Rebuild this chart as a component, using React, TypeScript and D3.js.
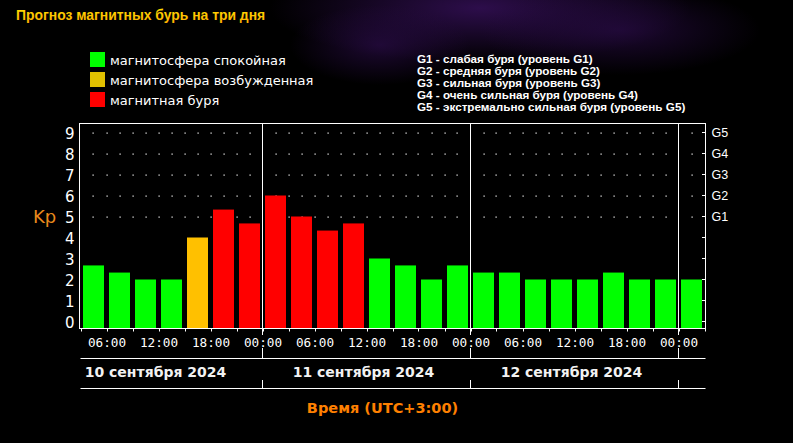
import React from "react";
import * as d3 from "d3";

const W = 793;
const H = 443;

// Kp values per 3-hour interval, starting 10 Sep 03:00 (UTC+3)
const kpValues = [
  2.67, 2.33, 2.0, 2.0, 4.0, 5.33, 4.67,
  6.0, 5.0, 4.33, 4.67, 3.0, 2.67, 2.0, 2.67,
  2.33, 2.33, 2.0, 2.0, 2.0, 2.33, 2.0, 2.0,
  2.0,
];
// 0 = quiet, 1 = unsettled, 2 = storm
const kpStatus = [
  0, 0, 0, 0, 1, 2, 2,
  2, 2, 2, 2, 0, 0, 0, 0,
  0, 0, 0, 0, 0, 0, 0, 0,
  0,
];
const statusColors = ["#00ff00", "#ffc000", "#ff0000"];
const legendColors = ["#00ff00", "#e0c000", "#ff0000"];
const legendLabels = [
  "магнитосфера спокойная",
  "магнитосфера возбужденная",
  "магнитная буря",
];
const gLegend = [
  "G1 - слабая буря (уровень G1)",
  "G2 - средняя буря (уровень G2)",
  "G3 - сильная буря (уровень G3)",
  "G4 - очень сильная буря (уровень G4)",
  "G5 - экстремально сильная буря (уровень G5)",
];
const gLabels = ["G1", "G2", "G3", "G4", "G5"];
const gLevels = [5, 6, 7, 8, 9];
const yTicks = [0, 1, 2, 3, 4, 5, 6, 7, 8, 9];
const dayLabels = ["10 сентября 2024", "11 сентября 2024", "12 сентября 2024"];
const startHour = 3; // first interval starts at 03:00 on day 1
const stepHours = 3;
const title = "Прогноз магнитных бурь на три дня";
const xTitle = "Время (UTC+3:00)";
const yTitle = "Kp";

export default function App() {
  const left = 80.5;
  const right = 704.5;
  const top = 123.5;
  const bottom = 328.5;
  const endHour = startHour + stepHours * kpValues.length;

  const x = d3.scaleLinear().domain([startHour, endHour]).range([left, right]);
  const y = d3.scaleLinear().domain([0, 9]).range([321.5, 132.5]);

  const tickHours = d3.range(startHour, endHour + 0.01, 3);
  const labelHours = tickHours.filter((h) => h % 6 === 0);
  const dayBounds = tickHours.filter((h) => h % 24 === 0);
  const dotHours = d3
    .range(startHour + 1.5, endHour - 0.1, 1.5)
    .filter((h) => h % 24 !== 0);
  const dotLevels = [5, 6, 7, 8, 9];

  const fmt = (h: number) => {
    const hh = h % 24;
    return (hh < 10 ? "0" : "") + hh + ":00";
  };

  return (
    <div style={{ position: "fixed", left: 0, top: 0, width: W, height: H }}>
      <svg width={W} height={H} style={{ display: "block", background: "#000" }}>
        <defs>
          <radialGradient id="glow1" cx="50%" cy="50%" r="50%">
            <stop offset="0%" stopColor="#3c1264" stopOpacity="0.75" />
            <stop offset="100%" stopColor="#3c1264" stopOpacity="0" />
          </radialGradient>
          <radialGradient id="glow2" cx="50%" cy="50%" r="50%">
            <stop offset="0%" stopColor="#2a0c48" stopOpacity="0.7" />
            <stop offset="100%" stopColor="#2a0c48" stopOpacity="0" />
          </radialGradient>
          <linearGradient id="titleGrad" x1="0" y1="0" x2="0" y2="1">
            <stop offset="0%" stopColor="#ffe000" />
            <stop offset="100%" stopColor="#ffb000" />
          </linearGradient>
        </defs>
        <rect x={0} y={0} width={W} height={H} fill="#000" />
        <ellipse cx={480} cy={8} rx={210} ry={55} fill="url(#glow1)" />
        <ellipse cx={380} cy={45} rx={90} ry={40} fill="url(#glow2)" />
        <ellipse cx={620} cy={30} rx={140} ry={45} fill="url(#glow2)" />

        <text
          x={16}
          y={20}
          fill="url(#titleGrad)"
          fontFamily="Liberation Sans, Arial, sans-serif"
          fontWeight="bold"
          fontSize={13.9}
        >
          {title}
        </text>

        {legendLabels.map((t, i) => (
          <g key={t}>
            <rect x={90} y={52 + i * 20} width={15} height={15} fill={legendColors[i]} />
            <text
              x={110}
              y={65 + i * 20}
              fill="#fff"
              fontFamily="DejaVu Sans, sans-serif"
              fontSize={13}
            >
              {t}
            </text>
          </g>
        ))}

        {gLegend.map((t, i) => (
          <text
            key={t}
            x={417}
            y={63.3 + i * 12}
            fill="#fff"
            fontFamily="Liberation Sans, Arial, sans-serif"
            fontWeight="bold"
            fontSize={11.7}
          >
            {t}
          </text>
        ))}

        {/* grid dots */}
        {dotLevels.map((lv) =>
          dotHours.map((h) => (
            <rect
              key={lv + "-" + h}
              x={Math.round(x(h)) - 0.5}
              y={Math.round(y(lv)) - 0.5}
              width={1.2}
              height={1.2}
              fill="#fff"
            />
          ))
        )}

        {/* bars */}
        {kpValues.map((v, i) => {
          const h0 = startHour + i * stepHours;
          const x0 = x(h0) + 2.5;
          const x1 = x(h0 + stepHours) - 2.5;
          return (
            <rect
              key={i}
              x={x0}
              y={y(v)}
              width={x1 - x0}
              height={bottom - y(v)}
              fill={statusColors[kpStatus[i]]}
            />
          );
        })}

        {/* plot frame */}
        <rect
          x={left - 1}
          y={top}
          width={right + 1 - left + 1}
          height={bottom - top}
          fill="none"
          stroke="#fff"
          strokeWidth={1}
        />

        {/* day dividers */}
        {dayBounds.map((h) => (
          <g key={"d" + h} stroke="#fff" strokeWidth={1}>
            <line x1={Math.round(x(h)) - 0.5} x2={Math.round(x(h)) - 0.5} y1={top} y2={335} />
            <line x1={Math.round(x(h)) - 0.5} x2={Math.round(x(h)) - 0.5} y1={348} y2={358.5} />
            <line x1={Math.round(x(h)) - 0.5} x2={Math.round(x(h)) - 0.5} y1={380} y2={388.5} />
          </g>
        ))}

        {/* bottom ticks */}
        {tickHours.map((h) => (
          <line
            key={"t" + h}
            x1={Math.round(x(h)) + 0.5}
            x2={Math.round(x(h)) + 0.5}
            y1={bottom}
            y2={bottom + 3}
            stroke="#fff"
          />
        ))}

        {/* left labels and right ticks */}
        {yTicks.map((v) => (
          <g key={"y" + v}>
            <text
              x={74.5}
              y={y(v) + 6}
              textAnchor="end"
              fill="#fff"
              fontFamily="DejaVu Sans, sans-serif"
              fontSize={15}
            >
              {v}
            </text>
            <line x1={702} x2={705} y1={Math.round(y(v)) - 0.5} y2={Math.round(y(v)) - 0.5} stroke="#fff" />
          </g>
        ))}

        {gLabels.map((g, i) => (
          <text
            key={g}
            x={711.5}
            y={y(gLevels[i]) + 4.5}
            fill="#fff"
            fontFamily="Liberation Sans, Arial, sans-serif"
            fontSize={12.5}
          >
            {g}
          </text>
        ))}

        <text
          x={33}
          y={223}
          fill="#e8891c"
          fontFamily="DejaVu Sans, sans-serif"
          fontSize={18}
        >
          {yTitle}
        </text>

        {/* time labels */}
        {labelHours.map((h) => (
          <text
            key={"l" + h}
            x={x(h) + 0.5}
            y={347}
            textAnchor="middle"
            fill="#fff"
            fontFamily="DejaVu Sans Mono, monospace"
            fontSize={12.7}
          >
            {fmt(h)}
          </text>
        ))}

        <line x1={left} x2={right + 1} y1={358.5} y2={358.5} stroke="#fff" />
        <line x1={left} x2={right + 1} y1={388.5} y2={388.5} stroke="#fff" />

        {dayLabels.map((d, i) => (
          <text
            key={d}
            x={x(i * 24 + 12) - 3}
            y={377}
            textAnchor="middle"
            fill="#f2f2f2"
            fontFamily="DejaVu Sans, sans-serif"
            fontWeight="bold"
            fontSize={14}
          >
            {d}
          </text>
        ))}

        <text
          x={382.5}
          y={412.5}
          textAnchor="middle"
          fill="#ff8000"
          fontFamily="DejaVu Sans, sans-serif"
          fontWeight="bold"
          fontSize={14.5}
        >
          {xTitle}
        </text>
      </svg>
    </div>
  );
}
